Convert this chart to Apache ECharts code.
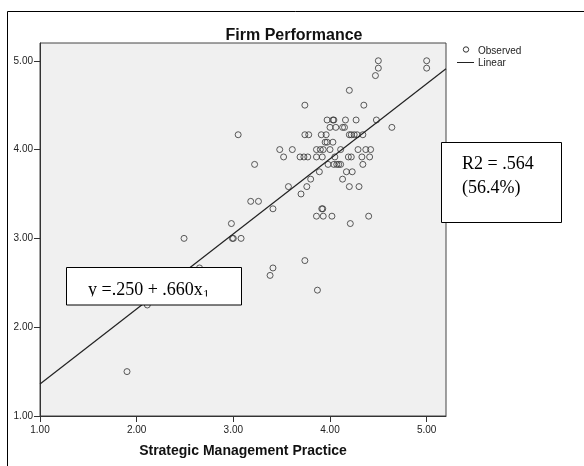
<!DOCTYPE html>
<html><head><meta charset="utf-8">
<script src="https://cdn.jsdelivr.net/npm/echarts@6/dist/echarts.min.js"></script>
<style>html,body{margin:0;padding:0;background:#fff}#c{width:584px;height:466px}</style>
</head><body><div id="c"></div>
<script>
// Observed points: Strategic Management Practice (x) vs Firm Performance (y)
const strategicPractice = [
  4.50, 5.00,
  4.50, 5.00,
  4.47,
  4.20,
  3.74, 4.35,
  3.97, 4.03, 4.04, 4.16, 4.27, 4.48,
  4.00, 4.06, 4.13, 4.15, 4.64,
  3.05, 3.74, 3.78, 3.91, 3.96, 4.20, 4.22, 4.25, 4.28, 4.34,
  3.95, 3.97, 4.03,
  3.48, 3.61, 3.86, 3.90, 3.93, 4.00, 4.11, 4.29, 4.37, 4.42,
  3.52, 3.69, 3.73, 3.77, 3.86, 3.92, 4.05, 4.19, 4.22, 4.33, 4.41,
  3.22, 3.98, 4.04, 4.07, 4.09, 4.11, 4.34,
  3.89, 4.17, 4.23,
  3.80, 4.13,
  3.57, 3.76, 4.20, 4.30,
  3.70,
  3.18, 3.26,
  3.41, 3.915, 3.925,
  3.86, 3.93, 4.02, 4.40,
  2.98, 4.21,
  2.49, 2.99, 3.00, 3.08,
  3.74,
  2.65, 3.41,
  3.38,
  3.87,
  2.11,
  1.90
];
const firmPerformance = [
  5.000, 5.000,
  4.917, 4.917,
  4.833,
  4.667,
  4.500, 4.500,
  4.333, 4.333, 4.333, 4.333, 4.333, 4.333,
  4.250, 4.250, 4.250, 4.250, 4.250,
  4.167, 4.167, 4.167, 4.167, 4.167, 4.167, 4.167, 4.167, 4.167, 4.167,
  4.083, 4.083, 4.083,
  4.000, 4.000, 4.000, 4.000, 4.000, 4.000, 4.000, 4.000, 4.000, 4.000,
  3.917, 3.917, 3.917, 3.917, 3.917, 3.917, 3.917, 3.917, 3.917, 3.917, 3.917,
  3.833, 3.833, 3.833, 3.833, 3.833, 3.833, 3.833,
  3.750, 3.750, 3.750,
  3.667, 3.667,
  3.583, 3.583, 3.583, 3.583,
  3.500,
  3.417, 3.417,
  3.333, 3.333, 3.333,
  3.250, 3.250, 3.250, 3.250,
  3.167, 3.167,
  3.000, 3.000, 3.000, 3.000,
  2.750,
  2.667, 2.667,
  2.583,
  2.417,
  2.250,
  1.500
];
// Fitted line as drawn (end points)
const fitLineX = [1.0, 5.2];
const fitLineY = [1.36, 4.91];
const xTickValues = [1, 2, 3, 4, 5];
const yTickValues = [1, 2, 3, 4, 5];
const legendLabels = ['Observed', 'Linear'];
const titleText = 'Firm Performance';
const xAxisTitle = 'Strategic Management Practice';
const equationText = 'y =.250 + .660x';
const equationSub = '1';
const rSquareLines = ['R2 = .564', '(56.4%)'];

const scatterData = strategicPractice.map((x, i) => [x, firmPerformance[i]]);
const lineData = fitLineX.map((x, i) => [x, fitLineY[i]]);

const SANS = '"Liberation Sans", Arial, sans-serif';
const SERIF = '"Liberation Serif", "Times New Roman", serif';

const mctx = document.createElement('canvas').getContext('2d');
mctx.font = '18px ' + SERIF;
const eqWidth = mctx.measureText(equationText).width;

const chart = echarts.init(document.getElementById('c'), null, { renderer: 'canvas' });

const axisCommon = {
  type: 'value',
  min: 1,
  max: 5.2,
  interval: 1,
  splitLine: { show: false },
  axisLine: { show: true, lineStyle: { color: '#333', width: 1 } },
  axisTick: { show: true, length: 6, lineStyle: { color: '#333', width: 1 } },
  axisLabel: {
    color: '#222',
    fontSize: 10,
    fontFamily: SANS,
    formatter: v => v.toFixed(2)
  }
};

const option = {
  backgroundColor: '#ffffff',
  animation: false,
  grid: {
    left: 40, top: 43, right: 138, bottom: 50,
    show: true, backgroundColor: '#f0f0f0', borderColor: '#444', borderWidth: 1
  },
  xAxis: Object.assign({}, axisCommon, {
    axisTick: Object.assign({}, axisCommon.axisTick, { customValues: xTickValues }),
    axisLabel: Object.assign({}, axisCommon.axisLabel, { margin: 9, customValues: xTickValues })
  }),
  yAxis: Object.assign({}, axisCommon, {
    axisTick: Object.assign({}, axisCommon.axisTick, { customValues: yTickValues }),
    axisLabel: Object.assign({}, axisCommon.axisLabel, { margin: 7, customValues: yTickValues })
  }),
  series: [
    {
      name: legendLabels[0],
      type: 'scatter',
      data: scatterData,
      symbol: 'circle',
      symbolSize: 6,
      itemStyle: { color: 'rgba(0,0,0,0)', borderColor: '#333', borderWidth: 1 },
      emphasis: { disabled: true },
      z: 3
    },
    {
      name: legendLabels[1],
      type: 'line',
      data: lineData,
      showSymbol: false,
      symbol: 'none',
      lineStyle: { color: '#222', width: 1.2 },
      emphasis: { disabled: true },
      z: 4
    }
  ],
  graphic: [
    // outer frame
    { type: 'line', silent: true, z: 100, shape: { x1: 7.5, y1: 11.5, x2: 7.5, y2: 466 }, style: { stroke: '#000', lineWidth: 1 } },
    { type: 'line', silent: true, z: 100, shape: { x1: 7.5, y1: 11.5, x2: 584, y2: 11.5 }, style: { stroke: '#000', lineWidth: 1 } },
    // title
    { type: 'text', silent: true, z: 100, style: { text: titleText, x: 294, y: 36, font: 'bold 16px ' + SANS, fill: '#111', textAlign: 'center', textVerticalAlign: 'middle' } },
    // x axis title
    { type: 'text', silent: true, z: 100, style: { text: xAxisTitle, x: 243, y: 451, font: 'bold 14px ' + SANS, fill: '#111', textAlign: 'center', textVerticalAlign: 'middle' } },
    // legend
    { type: 'circle', silent: true, z: 100, shape: { cx: 466, cy: 49.5, r: 2.7 }, style: { fill: 'none', stroke: '#333', lineWidth: 1 } },
    { type: 'text', silent: true, z: 100, style: { text: legendLabels[0], x: 478, y: 51, font: '10px ' + SANS, fill: '#222', textAlign: 'left', textVerticalAlign: 'middle' } },
    { type: 'line', silent: true, z: 100, shape: { x1: 457, y1: 62.5, x2: 474, y2: 62.5 }, style: { stroke: '#222', lineWidth: 1 } },
    { type: 'text', silent: true, z: 100, style: { text: legendLabels[1], x: 478, y: 63, font: '10px ' + SANS, fill: '#222', textAlign: 'left', textVerticalAlign: 'middle' } },
    // R2 box
    { type: 'rect', silent: true, z: 110, shape: { x: 441.5, y: 142.5, width: 120, height: 80 }, style: { fill: '#fff', stroke: '#000', lineWidth: 1 } },
    { type: 'text', silent: true, z: 111, style: { text: rSquareLines[0], x: 462, y: 164.5, font: '18px ' + SERIF, fill: '#000', textAlign: 'left', textVerticalAlign: 'middle' } },
    { type: 'text', silent: true, z: 111, style: { text: rSquareLines[1], x: 462, y: 188.5, font: '18px ' + SERIF, fill: '#000', textAlign: 'left', textVerticalAlign: 'middle' } },
    // equation box (text clipped at the bottom like the reference)
    { type: 'rect', silent: true, z: 110, shape: { x: 66.5, y: 267.5, width: 175, height: 37.5 }, style: { fill: '#fff', stroke: null } },
    { type: 'text', silent: true, z: 111, style: { text: equationText, x: 88, y: 290, font: '18px ' + SERIF, fill: '#000', textAlign: 'left', textVerticalAlign: 'middle' } },
    { type: 'text', silent: true, z: 111, style: { text: equationSub, x: 88 + eqWidth + 0.5, y: 295, font: '12px ' + SERIF, fill: '#000', textAlign: 'left', textVerticalAlign: 'middle' } },
    { type: 'rect', silent: true, z: 112, shape: { x: 67, y: 296.5, width: 174, height: 8 }, style: { fill: '#fff', stroke: null } },
    { type: 'rect', silent: true, z: 113, shape: { x: 66.5, y: 267.5, width: 175, height: 37.5 }, style: { fill: 'none', stroke: '#000', lineWidth: 1 } }
  ]
};
chart.setOption(option);
</script>
</body></html>
